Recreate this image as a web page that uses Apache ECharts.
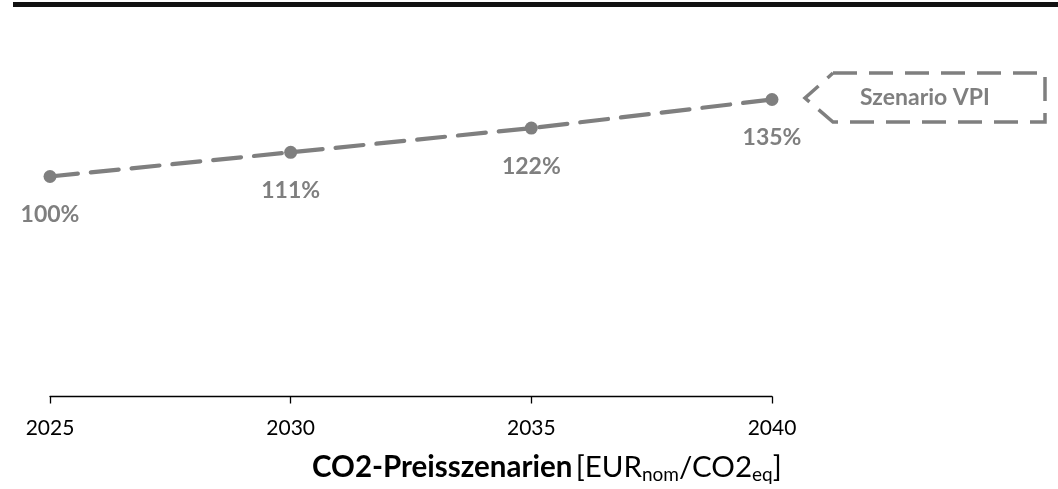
<!DOCTYPE html>
<html>
<head>
<meta charset="utf-8">
<script src="https://cdn.jsdelivr.net/npm/echarts@6/dist/echarts.min.js"></script>
<style>
  html, body { margin: 0; padding: 0; background: #fff; }
  #chart { width: 1058px; height: 489px; }
</style>
</head>
<body>
<div id="chart"></div>
<script>
// CO2 price scenario (VPI), indexed to 2025 = 100 %
const years = [2025, 2030, 2035, 2040];
const indexValues = [100, 111, 122, 135];
const scenarioName = 'Szenario VPI';
const axisTitleBold = 'CO2-Preisszenarien';

const grey = '#7f7f7f';
const font = 'Lato, "Open Sans", sans-serif';

const chart = echarts.init(document.getElementById('chart'), null, { renderer: 'canvas' });

chart.setOption({
  animation: false,
  backgroundColor: '#ffffff',
  grid: { left: 50, right: 286, top: 66.5, bottom: 92.5, containLabel: false },
  xAxis: {
    type: 'value',
    min: 2025,
    max: 2040,
    interval: 5,
    axisLine: { show: true, lineStyle: { color: '#000', width: 1.3 } },
    axisTick: { show: true, length: 7, lineStyle: { color: '#000', width: 1.3 } },
    axisLabel: {
      color: '#000',
      fontFamily: font,
      fontSize: 21,
      margin: 21,
      formatter: v => String(v)
    },
    splitLine: { show: false }
  },
  yAxis: {
    type: 'value',
    min: 0,
    max: 150,
    show: false,
    splitLine: { show: false }
  },
  series: [{
    name: scenarioName,
    type: 'line',
    data: years.map((y, i) => [y, indexValues[i]]),
    symbol: 'circle',
    symbolSize: 13,
    itemStyle: { color: grey },
    lineStyle: { color: grey, width: 4.2, type: [28, 13], cap: 'round' },
    label: {
      show: true,
      position: 'bottom',
      distance: 20,
      color: grey,
      fontFamily: font,
      fontWeight: 'bold',
      fontSize: 23,
      formatter: p => p.value[1] + '%'
    }
  }],
  graphic: [
    // heavy rule across the top
    { type: 'rect', left: 13, top: 2, shape: { width: 1045, height: 5 }, style: { fill: '#111' } },
    // dashed callout tag pointing at the scenario line
    {
      type: 'polyline',
      shape: { points: [[833, 73], [1045, 73], [1045, 122], [833, 122], [805, 98], [833, 73]] },
      style: { stroke: grey, lineWidth: 3.5, fill: null, lineDash: [24, 12] }
    },
    {
      type: 'text',
      x: 925, y: 98,
      style: {
        text: scenarioName,
        fill: grey,
        font: 'bold 23px ' + font,
        textAlign: 'center',
        textVerticalAlign: 'middle'
      }
    },
    // axis title with subscripts
    {
      type: 'text',
      x: 312, y: 467,
      style: {
        text: '{b|' + axisTitleBold + '} {r|[EUR}{s|nom}{r|/CO2}{s|eq}{r|]}',
        textVerticalAlign: 'middle',
        rich: {
          b: { fontFamily: font, fontWeight: 'bold', fontSize: 29.5, fill: '#000', lineHeight: 34, verticalAlign: 'middle' },
          r: { fontFamily: font, fontSize: 29.5, fill: '#000', lineHeight: 34, verticalAlign: 'middle' },
          s: { fontFamily: font, fontSize: 19, fill: '#000', lineHeight: 18, verticalAlign: 'bottom' }
        }
      }
    }
  ]
});
</script>
</body>
</html>
